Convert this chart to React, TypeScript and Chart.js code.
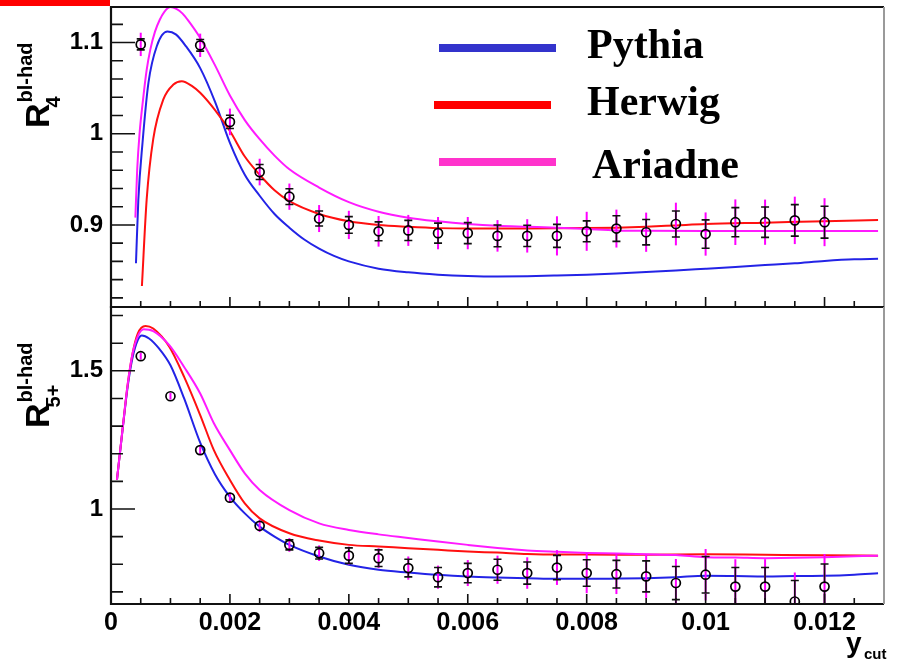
import React, { useEffect, useRef } from 'react';
import { Chart, registerables } from 'chart.js';

Chart.register(...registerables);

// ---------- axes ----------
const X_MIN = 0;
const X_MAX = 0.013;
const TOP_Y_MIN = 0.81;
const TOP_Y_MAX = 1.139;
const BOT_Y_MIN = 0.656;
const BOT_Y_MAX = 1.731;

const xTickValues = [0, 0.002, 0.004, 0.006, 0.008, 0.01, 0.012];
const xTickLabels = ['0', '0.002', '0.004', '0.006', '0.008', '0.01', '0.012'];
const xMinorTicks = [0.0005, 0.001, 0.0015, 0.0025, 0.003, 0.0035, 0.0045, 0.005, 0.0055, 0.0065, 0.007, 0.0075, 0.0085, 0.009, 0.0095, 0.0105, 0.011, 0.0115, 0.0125];
const topYTickValues = [0.9, 1.0, 1.1];
const topYTickLabels = ['0.9', '1', '1.1'];
const topYMinorTicks = [0.82, 0.84, 0.86, 0.88, 0.92, 0.94, 0.96, 0.98, 1.02, 1.04, 1.06, 1.08, 1.12];
const botYTickValues = [1.0, 1.5];
const botYTickLabels = ['1', '1.5'];
const botYMinorTicks = [0.7, 0.8, 0.9, 1.1, 1.2, 1.3, 1.4, 1.6, 1.7];

const seriesNames = ['Pythia', 'Herwig', 'Ariadne'];

// ---------- top panel: R4 ----------
const topDataX = [0.0005, 0.0015, 0.002, 0.0025, 0.003, 0.0035, 0.004, 0.0045, 0.005, 0.0055, 0.006, 0.0065, 0.007, 0.0075, 0.008, 0.0085, 0.009, 0.0095, 0.01, 0.0105, 0.011, 0.0115, 0.012];
const topDataY = [1.098, 1.097, 1.013, 0.958, 0.931, 0.907, 0.900, 0.893, 0.894, 0.891, 0.891, 0.888, 0.888, 0.888, 0.893, 0.896, 0.892, 0.901, 0.890, 0.903, 0.903, 0.905, 0.903];
const topStatErr = [0.006, 0.0064, 0.0073, 0.0082, 0.0086, 0.0082, 0.0091, 0.0104, 0.011, 0.011, 0.0115, 0.0119, 0.0117, 0.0126, 0.0115, 0.014, 0.0139, 0.0142, 0.0155, 0.016, 0.0166, 0.0173, 0.0175];
const topTotErr = [0.0128, 0.0128, 0.0146, 0.0146, 0.0144, 0.0148, 0.0155, 0.0168, 0.017, 0.0177, 0.0177, 0.0173, 0.0183, 0.0215, 0.0214, 0.0208, 0.0215, 0.0234, 0.0237, 0.025, 0.0248, 0.026, 0.0263];

const pyTopX = [0.00042, 0.00046, 0.00053, 0.00063, 0.00077, 0.00095, 0.00109, 0.00126, 0.0015, 0.00175, 0.002, 0.00225, 0.0025, 0.00275, 0.003, 0.00325, 0.0035, 0.00375, 0.004, 0.0045, 0.005, 0.0055, 0.006, 0.0065, 0.007, 0.0075, 0.008, 0.0085, 0.009, 0.0095, 0.01, 0.0105, 0.011, 0.0115, 0.012, 0.0125, 0.0129];
const pyTopY = [0.858, 0.928, 0.99, 1.056, 1.096, 1.112, 1.109, 1.096, 1.072, 1.035, 0.99, 0.955, 0.932, 0.912, 0.897, 0.884, 0.874, 0.866, 0.860, 0.852, 0.848, 0.8455, 0.844, 0.8434, 0.8437, 0.8445, 0.8455, 0.8468, 0.8484, 0.850, 0.852, 0.854, 0.856, 0.858, 0.8605, 0.8623, 0.8628];
const hwTopX = [0.00052, 0.0006, 0.00071, 0.00088, 0.00105, 0.00119, 0.00137, 0.0015, 0.00175, 0.002, 0.00225, 0.0025, 0.00275, 0.003, 0.0035, 0.004, 0.0045, 0.005, 0.0055, 0.006, 0.007, 0.008, 0.0085, 0.009, 0.0095, 0.01, 0.011, 0.012, 0.0129];
const hwTopY = [0.833, 0.928, 0.994, 1.0376, 1.054, 1.0576, 1.052, 1.045, 1.026, 1.003, 0.975, 0.955, 0.938, 0.926, 0.912, 0.904, 0.900, 0.898, 0.8965, 0.896, 0.896, 0.8965, 0.897, 0.898, 0.8995, 0.901, 0.9025, 0.904, 0.9054];
const arTopX = [0.00041, 0.00044, 0.00048, 0.00054, 0.0006, 0.00066, 0.00074, 0.00082, 0.0009, 0.001, 0.0011, 0.0012, 0.0013, 0.0015, 0.00175, 0.002, 0.00225, 0.0025, 0.00275, 0.003, 0.0035, 0.004, 0.0045, 0.005, 0.0055, 0.006, 0.0065, 0.007, 0.0075, 0.008, 0.0085, 0.009, 0.01, 0.011, 0.012, 0.0129];
const arTopY = [0.908, 0.96, 1.0, 1.038, 1.07, 1.092, 1.112, 1.125, 1.134, 1.139, 1.137, 1.132, 1.124, 1.105, 1.075, 1.042, 1.015, 0.994, 0.976, 0.961, 0.941, 0.925, 0.9145, 0.908, 0.904, 0.901, 0.899, 0.898, 0.897, 0.8955, 0.894, 0.8935, 0.8933, 0.8933, 0.8933, 0.8933];

// ---------- bottom panel: R5+ ----------
const botDataX = [0.0005, 0.001, 0.0015, 0.002, 0.0025, 0.003, 0.0035, 0.004, 0.0045, 0.005, 0.0055, 0.006, 0.0065, 0.007, 0.0075, 0.008, 0.0085, 0.009, 0.0095, 0.01, 0.0105, 0.011, 0.0115, 0.012];
const botDataY = [1.553, 1.408, 1.213, 1.041, 0.939, 0.870, 0.840, 0.831, 0.822, 0.786, 0.753, 0.768, 0.780, 0.768, 0.788, 0.768, 0.764, 0.756, 0.732, 0.762, 0.719, 0.719, 0.665, 0.719];
const botStatErr = [0.006, 0.006, 0.008, 0.012, 0.016, 0.018, 0.021, 0.028, 0.030, 0.032, 0.035, 0.035, 0.038, 0.040, 0.044, 0.048, 0.050, 0.056, 0.060, 0.066, 0.069, 0.069, 0.076, 0.082];
const botTotErr = [0.012, 0.012, 0.014, 0.018, 0.022, 0.025, 0.028, 0.033, 0.036, 0.042, 0.042, 0.047, 0.051, 0.057, 0.063, 0.073, 0.072, 0.078, 0.087, 0.093, 0.099, 0.099, 0.105, 0.118];

const pyBotX = [0.0001, 0.0002, 0.00028, 0.00036, 0.00045, 0.00052, 0.00064, 0.00081, 0.001, 0.00123, 0.0015, 0.00175, 0.002, 0.00225, 0.0025, 0.00275, 0.003, 0.0035, 0.004, 0.0045, 0.005, 0.0055, 0.006, 0.0065, 0.007, 0.0075, 0.008, 0.0085, 0.009, 0.0095, 0.01, 0.0105, 0.011, 0.0115, 0.012, 0.0125, 0.0129];
const pyBotY = [1.105, 1.297, 1.442, 1.545, 1.611, 1.628, 1.617, 1.58, 1.52, 1.40, 1.24, 1.125, 1.044, 0.984, 0.936, 0.90, 0.870, 0.828, 0.798, 0.78, 0.770, 0.7615, 0.7555, 0.752, 0.7495, 0.747, 0.747, 0.748, 0.7495, 0.753, 0.758, 0.757, 0.7555, 0.757, 0.758, 0.762, 0.7676];
const hwBotX = [0.0001, 0.0002, 0.00028, 0.00036, 0.00045, 0.00058, 0.00071, 0.00098, 0.00123, 0.0015, 0.00173, 0.002, 0.00225, 0.0025, 0.003, 0.0035, 0.004, 0.0045, 0.005, 0.0055, 0.006, 0.0065, 0.007, 0.0075, 0.008, 0.009, 0.01, 0.011, 0.012, 0.0129];
const hwBotY = [1.105, 1.30, 1.45, 1.56, 1.635, 1.6625, 1.653, 1.587, 1.478, 1.34, 1.213, 1.105, 1.02, 0.966, 0.912, 0.8855, 0.870, 0.864, 0.858, 0.852, 0.846, 0.842, 0.837, 0.835, 0.835, 0.834, 0.836, 0.834, 0.832, 0.831];
const arBotX = [0.0001, 0.0002, 0.00028, 0.00036, 0.00045, 0.00055, 0.00071, 0.00098, 0.00123, 0.0015, 0.00173, 0.002, 0.00225, 0.0025, 0.003, 0.0035, 0.004, 0.0045, 0.005, 0.0055, 0.006, 0.0065, 0.007, 0.0075, 0.008, 0.0085, 0.009, 0.0095, 0.01, 0.0105, 0.011, 0.0115, 0.012, 0.0125, 0.0129];
const arBotY = [1.105, 1.30, 1.45, 1.56, 1.625, 1.6505, 1.644, 1.593, 1.514, 1.418, 1.31, 1.213, 1.129, 1.069, 0.996, 0.948, 0.924, 0.908, 0.895, 0.882, 0.870, 0.859, 0.850, 0.845, 0.841, 0.839, 0.836, 0.833, 0.8254, 0.824, 0.822, 0.823, 0.8254, 0.829, 0.831];

// ---------- styles ----------
const CURVE_COLORS = ['#2323e6', '#ff1010', '#ff1aff'];
const LEGEND_COLORS = ['#3333cc', '#ff0000', '#ff33cc'];
const SANS = '"Liberation Sans", Arial, sans-serif';
const SERIF = '"Liberation Serif", "Times New Roman", serif';

const zip = (xs: number[], ys: number[]) => xs.map((x, i) => ({ x, y: ys[i] }));

const labelFor = (vals: number[], labels: string[]) => (v: any) => {
  const i = vals.findIndex((t) => Math.abs(t - Number(v)) < 1e-9);
  return i >= 0 ? labels[i] : '';
};

function makePanel(opts: {
  top: boolean;
  curves: { x: number[]; y: number[] }[];
  dataX: number[];
  dataY: number[];
  stat: number[];
  tot: number[];
  yMin: number;
  yMax: number;
  yTicks: number[];
  yLabels: string[];
  yMinor: number[];
}) {
  const dataIndex = opts.curves.length;
  const R = 4.5;
  const datasets: any[] = opts.curves.map((c, i) => ({
    type: 'line',
    label: seriesNames[i],
    data: zip(c.x, c.y),
    borderColor: CURVE_COLORS[i],
    borderWidth: 2,
    pointRadius: 0,
    fill: false,
    cubicInterpolationMode: 'monotone',
    order: 3 - i + 1,
  }));
  datasets.push({
    type: 'scatter',
    label: 'data',
    data: zip(opts.dataX, opts.dataY),
    pointStyle: 'circle',
    pointRadius: R,
    pointBorderWidth: 1.7,
    pointBorderColor: '#000',
    pointBackgroundColor: 'rgba(0,0,0,0)',
    order: 0,
  });

  const errorBars = {
    id: 'errorBars' + (opts.top ? 'Top' : 'Bot'),
    beforeDatasetDraw(chart: any, args: any) {
      if (args.index !== dataIndex) return;
      const { ctx, chartArea: a } = chart;
      const xs = chart.scales.x;
      const ys = chart.scales.y;
      ctx.save();
      ctx.beginPath();
      ctx.rect(a.left, a.top, a.right - a.left, a.bottom - a.top);
      ctx.clip();
      for (let i = 0; i < opts.dataX.length; i++) {
        const px = xs.getPixelForValue(opts.dataX[i]);
        const py = ys.getPixelForValue(opts.dataY[i]);
        // total (magenta)
        const tUp = ys.getPixelForValue(opts.dataY[i] + opts.tot[i]);
        const tDn = ys.getPixelForValue(opts.dataY[i] - opts.tot[i]);
        ctx.strokeStyle = '#ff00ff';
        ctx.lineWidth = 2;
        ctx.beginPath();
        ctx.moveTo(px, tUp);
        ctx.lineTo(px, tDn);
        ctx.stroke();
        // stat (black)
        const sUp = ys.getPixelForValue(opts.dataY[i] + opts.stat[i]);
        const sDn = ys.getPixelForValue(opts.dataY[i] - opts.stat[i]);
        ctx.strokeStyle = '#111';
        ctx.lineWidth = 1.6;
        if (py - sUp > R) {
          ctx.beginPath();
          ctx.moveTo(px, sUp);
          ctx.lineTo(px, py - R);
          ctx.moveTo(px, py + R);
          ctx.lineTo(px, sDn);
          ctx.moveTo(px - 4, sUp);
          ctx.lineTo(px + 4, sUp);
          ctx.moveTo(px - 4, sDn);
          ctx.lineTo(px + 4, sDn);
          ctx.stroke();
        }
      }
      ctx.restore();
    },
  };

  const frame = {
    id: 'frame' + (opts.top ? 'Top' : 'Bot'),
    afterDraw(chart: any) {
      const { ctx, chartArea: a } = chart;
      const xs = chart.scales.x;
      const ys = chart.scales.y;
      ctx.save();
      ctx.strokeStyle = '#111';
      ctx.lineWidth = 1.6;
      ctx.beginPath();
      opts.yTicks.forEach((v) => {
        const y = ys.getPixelForValue(v);
        ctx.moveTo(a.left, y);
        ctx.lineTo(a.left + 24, y);
      });
      opts.yMinor.forEach((v) => {
        const y = ys.getPixelForValue(v);
        ctx.moveTo(a.left, y);
        ctx.lineTo(a.left + 12, y);
      });
      xTickValues.forEach((v) => {
        const x = xs.getPixelForValue(v);
        ctx.moveTo(x, a.bottom);
        ctx.lineTo(x, a.bottom - 10);
      });
      xMinorTicks.forEach((v) => {
        const x = xs.getPixelForValue(v);
        ctx.moveTo(x, a.bottom);
        ctx.lineTo(x, a.bottom - 6);
      });
      ctx.stroke();
      // frame
      ctx.lineWidth = 2.2;
      ctx.beginPath();
      ctx.moveTo(a.right, a.top);
      ctx.lineTo(a.left, a.top);
      ctx.lineTo(a.left, a.bottom);
      ctx.lineTo(a.right, a.bottom);
      ctx.stroke();
      ctx.strokeStyle = '#9a9a9a';
      ctx.lineWidth = 2;
      ctx.beginPath();
      ctx.moveTo(a.right, a.top);
      ctx.lineTo(a.right, a.bottom);
      ctx.stroke();

      // y-axis title R^{bl-had}_{sub}
      const sub = opts.top ? '4' : '5+';
      const startY = opts.top ? 128 : 428;
      ctx.translate(49, startY);
      ctx.rotate(-Math.PI / 2);
      ctx.fillStyle = '#000';
      ctx.textBaseline = 'alphabetic';
      ctx.font = 'bold 34px ' + SANS;
      ctx.fillText('R', 0, 0);
      const w = ctx.measureText('R').width;
      ctx.font = 'bold 20px ' + SANS;
      ctx.fillText('bl-had', w + 1, -17);
      ctx.fillText(sub, w - 4, 11);
      ctx.restore();

      ctx.save();
      ctx.fillStyle = '#000';
      if (opts.top) {
        // red corner mark
        ctx.fillStyle = '#ff0000';
        ctx.fillRect(0, 0, 110, 6);
        // legend
        const lx = [439, 434, 439];
        const ly = [48, 105, 162];
        const tx = [587, 587, 592];
        const ty = [58, 115, 178];
        for (let i = 0; i < 3; i++) {
          ctx.strokeStyle = LEGEND_COLORS[i];
          ctx.lineWidth = 8;
          ctx.beginPath();
          ctx.moveTo(lx[i], ly[i]);
          ctx.lineTo(lx[i] + 117, ly[i]);
          ctx.stroke();
          ctx.fillStyle = '#000';
          ctx.font = 'bold 42px ' + SERIF;
          ctx.textBaseline = 'alphabetic';
          ctx.fillText(seriesNames[i], tx[i], ty[i]);
        }
      } else {
        ctx.font = 'bold 28px ' + SANS;
        ctx.textBaseline = 'alphabetic';
        ctx.fillText('y', 846, 652);
        ctx.font = 'bold 15px ' + SANS;
        ctx.fillText('cut', 864, 659);
      }
      ctx.restore();
    },
  };

  const config: any = {
    data: { datasets },
    options: {
      animation: false,
      responsive: false,
      devicePixelRatio: 1,
      events: [],
      layout: {
        padding: opts.top
          ? { top: 7, bottom: 662 - 307, left: 0, right: 16 }
          : { top: 307, bottom: 0, left: 0, right: 16 },
      },
      plugins: { legend: { display: false }, tooltip: { enabled: false } },
      scales: {
        x: {
          type: 'linear',
          min: X_MIN,
          max: X_MAX,
          display: !opts.top,
          grid: { display: false, drawTicks: false },
          border: { display: false },
          afterBuildTicks: (s: any) => {
            s.ticks = xTickValues.map((v) => ({ value: v }));
          },
          ticks: {
            autoSkip: false,
            maxRotation: 0,
            minRotation: 0,
            padding: 4,
            color: '#000',
            font: { family: SANS, weight: 'bold', size: 25 },
            callback: labelFor(xTickValues, xTickLabels),
          },
          afterFit: (s: any) => {
            if (!opts.top) s.height = 662 - 604;
            s.paddingLeft = 0;
            s.paddingRight = 0;
          },
        },
        y: {
          type: 'linear',
          min: opts.yMin,
          max: opts.yMax,
          grid: { display: false, drawTicks: false },
          border: { display: false },
          afterBuildTicks: (s: any) => {
            s.ticks = opts.yTicks.map((v) => ({ value: v }));
          },
          ticks: {
            padding: 8,
            color: '#000',
            font: { family: SANS, weight: 'bold', size: 24 },
            callback: labelFor(opts.yTicks, opts.yLabels),
          },
          afterFit: (s: any) => {
            s.width = 111;
            s.paddingTop = 0;
            s.paddingBottom = 0;
          },
        },
      },
    },
    plugins: [errorBars, frame],
  };
  return config;
}

function Panel(props: { top: boolean }) {
  const ref = useRef<HTMLCanvasElement | null>(null);
  useEffect(() => {
    if (!ref.current) return;
    const cfg = props.top
      ? makePanel({
          top: true,
          curves: [
            { x: pyTopX, y: pyTopY },
            { x: hwTopX, y: hwTopY },
            { x: arTopX, y: arTopY },
          ],
          dataX: topDataX,
          dataY: topDataY,
          stat: topStatErr,
          tot: topTotErr,
          yMin: TOP_Y_MIN,
          yMax: TOP_Y_MAX,
          yTicks: topYTickValues,
          yLabels: topYTickLabels,
          yMinor: topYMinorTicks,
        })
      : makePanel({
          top: false,
          curves: [
            { x: pyBotX, y: pyBotY },
            { x: hwBotX, y: hwBotY },
            { x: arBotX, y: arBotY },
          ],
          dataX: botDataX,
          dataY: botDataY,
          stat: botStatErr,
          tot: botTotErr,
          yMin: BOT_Y_MIN,
          yMax: BOT_Y_MAX,
          yTicks: botYTickValues,
          yLabels: botYTickLabels,
          yMinor: botYMinorTicks,
        });
    const chart = new Chart(ref.current, cfg);
    return () => chart.destroy();
  }, [props.top]);
  return (
    <canvas
      ref={ref}
      width={900}
      height={662}
      style={{ position: 'absolute', left: 0, top: 0, width: 900, height: 662 }}
    />
  );
}

export default function App() {
  return (
    <div
      style={{
        position: 'fixed',
        left: 0,
        top: 0,
        width: 900,
        height: 662,
        background: '#fff',
        overflow: 'hidden',
      }}
    >
      <Panel top={true} />
      <Panel top={false} />
    </div>
  );
}
